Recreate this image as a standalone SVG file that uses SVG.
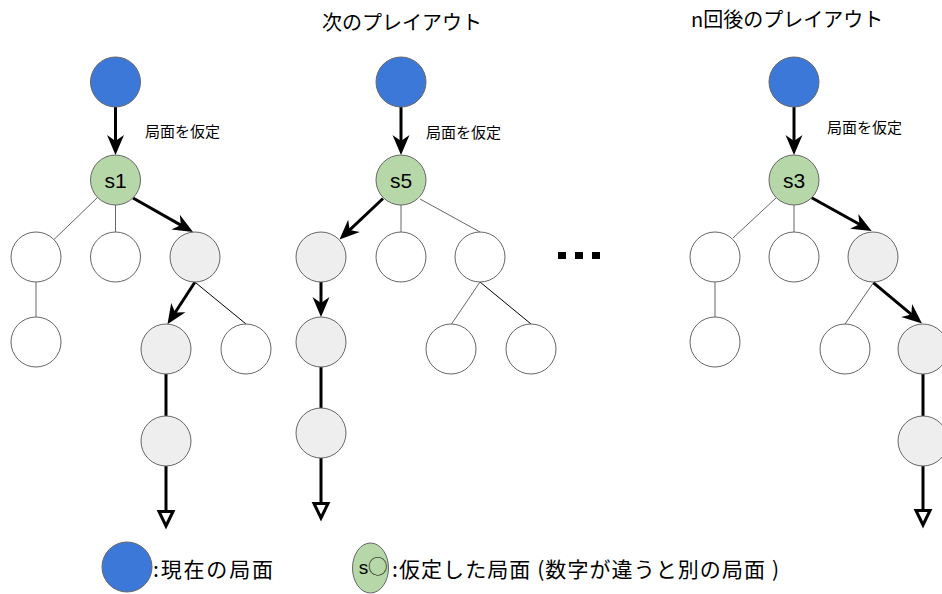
<svg xmlns="http://www.w3.org/2000/svg" width="942" height="594" viewBox="0 0 942 594">
<defs>
<style>
.n{stroke:#666;stroke-width:1}
.blue{fill:#3c78d8}
.green{fill:#b6d7a8}
.gray{fill:#eeeeee}
.white{fill:#ffffff}
.thick{stroke:#000;stroke-width:3;fill:none}
.thin{stroke:#666;stroke-width:1;fill:none}
.thinb{stroke:#000;stroke-width:1;fill:none}
.cls{marker-end:url(#classic)}
.opn{marker-end:url(#openblock)}
.lbl{font-family:"Liberation Sans","Noto Sans CJK JP",sans-serif;font-size:21px;fill:#000;text-anchor:middle;dominant-baseline:central}
.jp{font-family:"Noto Sans CJK JP","Liberation Sans",sans-serif;fill:#000;dominant-baseline:central}
</style>
<marker id="classic" markerUnits="userSpaceOnUse" viewBox="-10 -10 24 20" refX="0" refY="0" markerWidth="24" markerHeight="20" orient="auto" overflow="visible">
<path d="M12,0 L-8,-8.5 L-2,0 L-8,8.5 Z" fill="#000" stroke="none"/>
</marker>
<marker id="openblock" markerUnits="userSpaceOnUse" viewBox="-4 -12 24 24" refX="0" refY="0" markerWidth="24" markerHeight="24" orient="auto" overflow="visible">
<path d="M1.5,-7 L16,0 L1.5,7 Z" fill="#fff" stroke="#000" stroke-width="3" stroke-linejoin="miter"/>
</marker>
</defs>
<rect width="942" height="594" fill="#fff"/>

<g id="connectors">
<!-- tree 1 -->
<line class="thick cls" x1="115.5" y1="107" x2="115.5" y2="143"/>
<line class="thick cls" x1="133" y1="198" x2="182.6" y2="226.1"/>
<line class="thin" x1="97.6" y1="197.4" x2="53.9" y2="239.6"/>
<line class="thin" x1="115.5" y1="205" x2="115.5" y2="232"/>
<line class="thin" x1="36" y1="282" x2="36" y2="317"/>
<line class="thick cls" x1="195" y1="282" x2="174" y2="314.3"/>
<line class="thinb" x1="196" y1="283" x2="246" y2="324"/>
<line class="thick" x1="166" y1="374" x2="166" y2="416"/>
<line class="thick opn" x1="166" y1="466" x2="166" y2="510"/>
<!-- tree 2 -->
<line class="thick cls" x1="401" y1="107" x2="401" y2="143"/>
<line class="thick cls" x1="383" y1="198.5" x2="348.2" y2="231.3"/>
<line class="thin" x1="401" y1="205" x2="401" y2="232"/>
<line class="thin" x1="420" y1="199" x2="480" y2="232"/>
<line class="thin" x1="480" y1="282" x2="451.5" y2="324"/>
<line class="thinb" x1="480" y1="282" x2="531" y2="324"/>
<line class="thick cls" x1="321" y1="282" x2="321" y2="305"/>
<line class="thick" x1="321" y1="367" x2="321" y2="408"/>
<line class="thick opn" x1="321" y1="458" x2="321" y2="502"/>
<!-- tree 3 -->
<line class="thick cls" x1="794" y1="107" x2="794" y2="143"/>
<line class="thick cls" x1="811.7" y1="197.7" x2="861.2" y2="225.2"/>
<line class="thin" x1="776" y1="198" x2="733" y2="238"/>
<line class="thin" x1="794" y1="205" x2="794" y2="232"/>
<line class="thin" x1="715" y1="282" x2="715" y2="317"/>
<line class="thin" x1="872.5" y1="284" x2="845" y2="324"/>
<line class="thick cls" x1="873.3" y1="282.7" x2="912.8" y2="315.7"/>
<line class="thick" x1="923" y1="374" x2="923" y2="416"/>
<line class="thick opn" x1="923" y1="466" x2="923" y2="509"/>
</g>

<!-- tree 1 nodes -->
<g id="t1-root"><circle class="n blue" cx="115.5" cy="82" r="25"/></g>
<g id="t1-label"><text class="jp" x="145" y="130.5" font-size="15">局面を仮定</text></g>
<g id="t1-s1"><circle class="n green" cx="115.5" cy="180" r="25"/><text class="lbl" x="115.5" y="180">s1</text></g>
<g id="t1-a"><circle class="n white" cx="36" cy="257" r="25"/></g>
<g id="t1-b"><circle class="n white" cx="115.5" cy="257" r="25"/></g>
<g id="t1-c"><circle class="n gray" cx="195" cy="257" r="25"/></g>
<g id="t1-a1"><circle class="n white" cx="36" cy="342" r="25"/></g>
<g id="t1-c1"><circle class="n gray" cx="166" cy="349" r="25"/></g>
<g id="t1-c2"><circle class="n white" cx="246" cy="349" r="25"/></g>
<g id="t1-c11"><circle class="n gray" cx="166" cy="441" r="25"/></g>

<!-- tree 2 nodes -->
<g id="t2-title"><text class="jp" x="322" y="21" font-size="20">次のプレイアウト</text></g>
<g id="t2-root"><circle class="n blue" cx="401" cy="82" r="25"/></g>
<g id="t2-label"><text class="jp" x="426" y="131" font-size="15">局面を仮定</text></g>
<g id="t2-s5"><circle class="n green" cx="401" cy="180" r="25"/><text class="lbl" x="401" y="180">s5</text></g>
<g id="t2-a"><circle class="n gray" cx="321" cy="257" r="25"/></g>
<g id="t2-b"><circle class="n white" cx="401" cy="257" r="25"/></g>
<g id="t2-c"><circle class="n white" cx="480" cy="257" r="25"/></g>
<g id="t2-a1"><circle class="n gray" cx="321" cy="342" r="25"/></g>
<g id="t2-a11"><circle class="n gray" cx="321" cy="433" r="25"/></g>
<g id="t2-c1"><circle class="n white" cx="451" cy="349" r="25"/></g>
<g id="t2-c2"><circle class="n white" cx="531" cy="349" r="25"/></g>

<g id="ellipsis">
<rect x="558" y="252" width="8" height="7" fill="#000"/>
<rect x="575" y="252" width="8" height="7" fill="#000"/>
<rect x="592" y="252" width="8" height="7" fill="#000"/>
</g>

<!-- tree 3 nodes -->
<g id="t3-title"><text class="jp" x="691" y="18" font-size="20">n回後のプレイアウト</text></g>
<g id="t3-root"><circle class="n blue" cx="794" cy="82" r="25"/></g>
<g id="t3-label"><text class="jp" x="827" y="126" font-size="15">局面を仮定</text></g>
<g id="t3-s3"><circle class="n green" cx="794" cy="180" r="25"/><text class="lbl" x="794" y="180">s3</text></g>
<g id="t3-a"><circle class="n white" cx="715" cy="257" r="25"/></g>
<g id="t3-b"><circle class="n white" cx="794" cy="257" r="25"/></g>
<g id="t3-c"><circle class="n gray" cx="873" cy="257" r="25"/></g>
<g id="t3-a1"><circle class="n white" cx="715" cy="342" r="25"/></g>
<g id="t3-c1"><circle class="n white" cx="845" cy="349" r="25"/></g>
<g id="t3-c2"><circle class="n gray" cx="923" cy="349" r="25"/></g>
<g id="t3-c21"><circle class="n gray" cx="923" cy="441" r="25"/></g>

<!-- legend -->
<g id="legend-current">
<circle class="n blue" cx="127" cy="567" r="25"/>
<text class="jp" x="153" y="568" font-size="21" textLength="120" lengthAdjust="spacing">:現在の局面</text>
</g>
<g id="legend-assumed">
<ellipse class="n green" cx="370.5" cy="568" rx="18" ry="25"/>
<text x="373" y="567" font-size="19" text-anchor="middle" dominant-baseline="central" font-family="'Liberation Sans','Noto Sans CJK JP',sans-serif">s◯</text>
<text class="jp" x="392" y="568" font-size="21" textLength="387" lengthAdjust="spacing">:仮定した局面 (数字が違うと別の局面 )</text>
</g>
</svg>
